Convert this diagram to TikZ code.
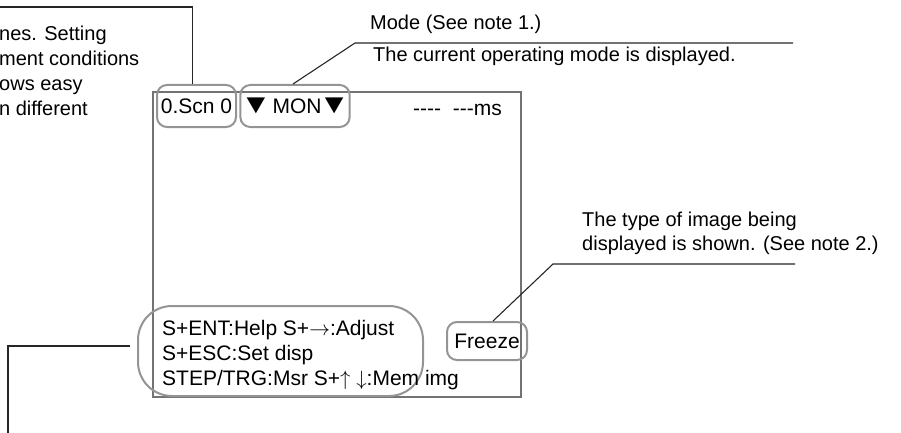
\documentclass[tikz,border=0pt]{standalone}
\usepackage{fontspec}
\setmainfont{Liberation Sans}
\usepackage{tikz}
\newcommand{\tridown}{\scalebox{1.5}[1.3]{▼}}

\begin{document}
\begin{tikzpicture}[x=1pt,y=-1pt,
  every node/.style={inner sep=0pt,font=\fontsize{20}{25}\selectfont},
  shown/.style={font=\fontsize{21}{25}\selectfont},
  lead/.style={line width=1.1pt,draw=black!85},
  frame/.style={draw=black!55,line width=1.6pt},
  ring/.style={draw=black!42,line width=2pt,rounded corners=10pt}]
\useasboundingbox (0,0) rectangle (901,433);
% screen
\node[frame,minimum width=368pt,minimum height=305pt] (screen) at (337,244.5) {};
% top line of the screen
\node[ring,shown,minimum width=79pt,minimum height=42pt] (scn) at (196.5,106) {0.Scn 0};
\node[ring,shown,minimum width=96pt,minimum height=42pt] (mon) at (295,106) {\tridown\hspace{1pt}MON\hspace{-3pt}\tridown};
\node[shown,anchor=base west] (time) at (413,115) {-{}-{}-{}-\ \ -{}-{}-ms};
% image type
\node[ring,shown,minimum width=80pt,minimum height=38pt] (frz) at (487,341) {Freeze};
% key guide
\node[ring,rounded corners=34pt,minimum width=285pt,minimum height=90pt] (keyloop) at (280.5,351) {};
\node[shown,anchor=base west,align=left] (keys) at (162,385) {S+ENT:Help S+$\rightarrow$:Adjust\\S+ESC:Set disp\\STEP/TRG:Msr S+$\uparrow$ $\downarrow$:Mem img};
% texts
\node[anchor=base west] (scnA) at (-1,41) {nes. Setting};
\node[anchor=base west] (scnB) at (-1,66) {ment conditions};
\node[anchor=base west] (scnC) at (-1,91) {ows easy};
\node[anchor=base west] (scnD) at (-1,116) {n different};
\node[anchor=base west] (modeA) at (370,30) {Mode (See note 1.)};
\node[anchor=base west] (modeB) at (373,62) {The current operating mode is displayed.};
\node[anchor=base west] (frzA) at (582,226) {The type of image being};
\node[anchor=base west] (frzB) at (582,250) {displayed is shown. (See note 2.)};
% leader lines
\coordinate (scnend) at (0,7);
\coordinate (modebend) at (355,43);
\coordinate (modeend) at (793,43);
\coordinate (frzbend) at (553,264);
\coordinate (frzend) at (795,264);
\coordinate (keyjoin) at (130,346);
\coordinate (keyend) at (8,433);
\draw[lead] ([xshift=-4pt]scn.north) |- (scnend);
\draw[lead] ([xshift=-2pt]mon.north) -- (modebend) -- (modeend);
\draw[lead] ([xshift=6pt]frz.north) -- (frzbend) -- (frzend);
\draw[lead] (keyjoin) -| (keyend);
\end{tikzpicture}
\end{document}
